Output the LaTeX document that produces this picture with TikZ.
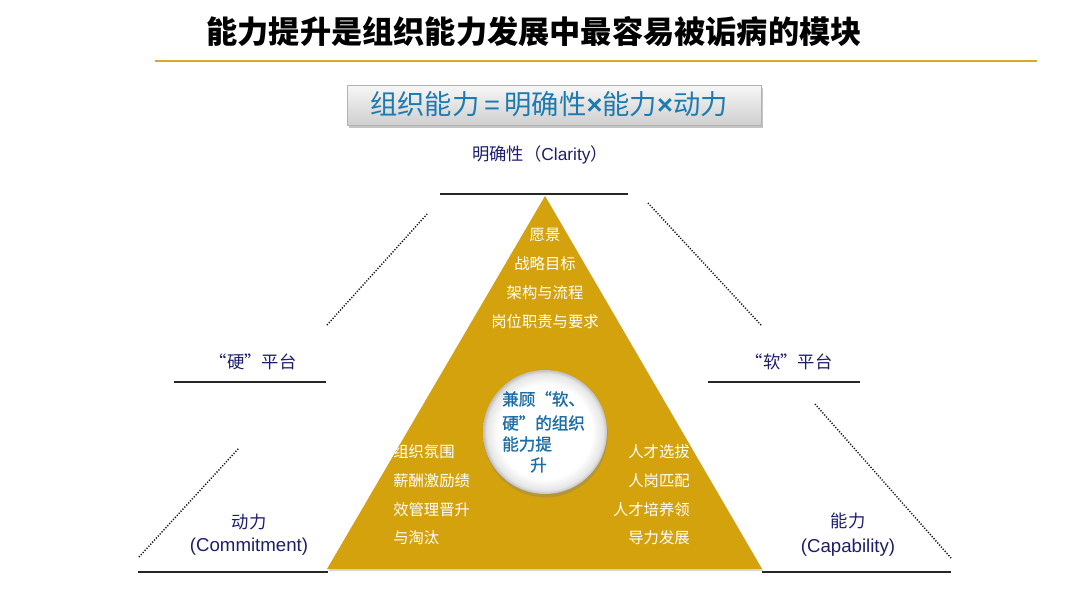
\documentclass[tikz,border=0pt]{standalone}
\usepackage{fontspec}
\setmainfont{Liberation Sans}
\newfontfamily\cjk{Noto Sans CJK SC}
\newfontfamily\cjkm[FakeBold=1.2]{Noto Sans CJK SC}
\newfontfamily\lat{Liberation Sans}
\usetikzlibrary{shadows}
\definecolor{gold}{HTML}{D4A20C}
\definecolor{goldline}{HTML}{D8A829}
\definecolor{navy}{HTML}{1E1E6E}
\definecolor{formblue}{HTML}{1C7BB0}
\definecolor{circblue}{HTML}{1B6FA6}
\pgfdeclareradialshading{glossy}{\pgfpoint{0bp}{0bp}}{color(0bp)=(white); color(19bp)=(white); color(23.5bp)=(gray!20); color(25bp)=(gray!50); color(50bp)=(gray!50)}
\begin{document}
\begin{tikzpicture}[x=0.75pt,y=-0.75pt,
  lbl/.style={text=navy, font=\cjk\fontsize{13}{16}\selectfont, inner sep=0pt},
  tritext/.style={text=white, font=\cjk\fontsize{11.5}{14}\selectfont, inner sep=0pt},
  circtext/.style={text=circblue, font=\cjkm\fontsize{12.4}{15}\selectfont, inner sep=0pt, anchor=west},
  solidline/.style={draw=black!85, line width=1.1pt},
  dotline/.style={draw=black!90, line width=1.1pt, dash pattern=on 0.9pt off 1.2pt}]
\useasboundingbox[fill=white] (0,0) rectangle (1080,608);

% title
\node[font=\cjk\bfseries\fontsize{23.4}{28}\selectfont, inner sep=0pt] (title) at (534,32) {能力提升是组织能力发展中最容易被诟病的模块};
\coordinate (tl1) at (155,61);
\coordinate (tl2) at (1037,61);
\draw[goldline, line width=1.5pt] (tl1) -- (tl2);

% formula box
\node[draw=gray!60, top color=gray!6, bottom color=gray!38, drop shadow={opacity=0.45, shadow xshift=1.2pt, shadow yshift=-2pt}, minimum width=310.5pt, minimum height=30pt, inner sep=0pt] (formbox) at (554,105) {};
\node[text=formblue, font=\cjk\fontsize{20.5}{24}\selectfont, inner sep=0pt] (formula) at (549,104) {组织能力{\lat\,=\,}明确性{\lat\bfseries ×}能力{\lat\bfseries ×}动力};

% clarity
\node[lbl] (clarity) at (540,155) {明确性（{\lat Clarity}）};
\coordinate (ct1) at (440,194);
\coordinate (ct2) at (628,194);
\draw[solidline] (ct1) -- (ct2);

% triangle
\coordinate (A) at (545,196);
\coordinate (B) at (327,569);
\coordinate (C) at (762,569);
\path[fill=gold, drop shadow={opacity=0.3, shadow xshift=1pt, shadow yshift=-1.5pt}] (A) -- (B) -- (C) -- cycle;

% bottom lines
\coordinate (bl1) at (138,572);
\coordinate (bl2) at (328,572);
\coordinate (br1) at (762,572);
\coordinate (br2) at (951,572);
\draw[solidline] (bl1) -- (bl2);
\draw[solidline] (br1) -- (br2);

% platform lines
\coordinate (hl1) at (174,382);
\coordinate (hl2) at (326,382);
\coordinate (sl1) at (708,382);
\coordinate (sl2) at (860,382);
\draw[solidline] (hl1) -- (hl2);
\draw[solidline] (sl1) -- (sl2);

% dotted lines
\coordinate (d1a) at (327,325);
\coordinate (d1b) at (428,213);
\coordinate (d2a) at (648,203);
\coordinate (d2b) at (761,325);
\coordinate (d3a) at (139,557);
\coordinate (d3b) at (239,448);
\coordinate (d4a) at (815,404);
\coordinate (d4b) at (951,558);
\draw[dotline] (d1a) -- (d1b);
\draw[dotline] (d2a) -- (d2b);
\draw[dotline] (d3a) -- (d3b);
\draw[dotline] (d4a) -- (d4b);

% labels
\node[lbl] (hard) at (253,362) {“硬”平台};
\node[lbl] (soft) at (789,362) {“软”平台};
\node[lbl] (dongli) at (249,522) {动力};
\node[lbl, font=\lat\fontsize{14}{16}\selectfont] (commit) at (249,547) {(Commitment)};
\node[lbl] (nengli) at (848,521) {能力};
\node[lbl, font=\lat\fontsize{14}{16}\selectfont] (capab) at (848,548) {(Capability)};

% triangle top texts
\node[tritext] (t1) at (545,235) {愿景};
\node[tritext] (t2) at (545,264) {战略目标};
\node[tritext] (t3) at (545,293) {架构与流程};
\node[tritext] (t4) at (545,322) {岗位职责与要求};

% left texts (clipped to triangle)
\begin{scope}
\clip (A) -- (B) -- (C) -- cycle;
\node[tritext, anchor=west] (l1) at (393,452) {组织氛围};
\node[tritext, anchor=west] (l2) at (393,481) {薪酬激励绩};
\node[tritext, anchor=west] (l3) at (393,510) {效管理晋升};
\node[tritext, anchor=west] (l4) at (393,538) {与淘汰};
\end{scope}

% right texts
\node[tritext, anchor=east] (r1) at (690,452) {人才选拔};
\node[tritext, anchor=east] (r2) at (690,481) {人岗匹配};
\node[tritext, anchor=east] (r3) at (690,510) {人才培养领};
\node[tritext, anchor=east] (r4) at (690,538) {导力发展};

% central circle
\node[circle, minimum size=93pt, inner sep=0pt, shading=glossy, drop shadow={opacity=0.35, shadow xshift=0.5pt, shadow yshift=-2.5pt}] (core) at (545,432) {};
\node[circtext] (c1) at (502,399) {兼顾“软、};
\node[circtext] (c2) at (502,423) {硬”的组织};
\node[circtext] (c3) at (502,444) {能力提};
\node[circtext] (c4) at (530,465) {升};
\end{tikzpicture}
\end{document}
